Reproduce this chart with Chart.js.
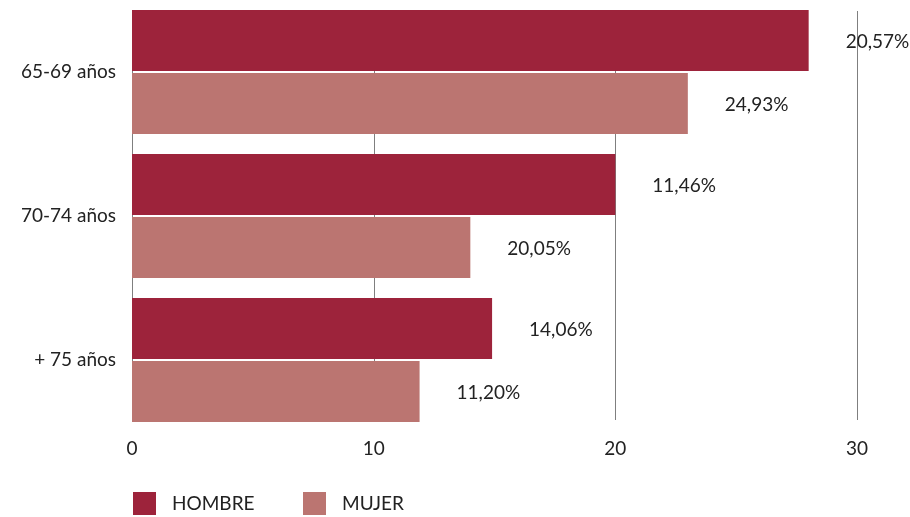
<!DOCTYPE html>
<html lang="es">
<head>
<meta charset="utf-8">
<title>Población por edad y sexo</title>
<script src="https://cdn.jsdelivr.net/npm/chart.js@4.4.1/dist/chart.umd.min.js"></script>
<style>
  html, body { margin: 0; padding: 0; background: #ffffff; }
  #wrap { position: relative; width: 910px; height: 517px; }
</style>
</head>
<body>
<div id="wrap"><canvas id="grafico" width="910" height="517"></canvas></div>
<script>
// Grupos de edad
const categorias = ['65-69 años', '70-74 años', '+ 75 años'];
// Longitud de las barras
const hombre = [28.0, 20.0, 14.9];
const mujer = [23.0, 14.0, 11.9];
// Rótulos que acompañan a cada barra
const rotulosHombre = ['20,57%', '11,46%', '14,06%'];
const rotulosMujer = ['24,93%', '20,05%', '11,20%'];
// Marcas del eje horizontal
const marcasX = [0, 10, 20, 30];

const FUENTE = 'Lato, "Noto Sans", sans-serif';
const TAM = 19;
const TEXTO = '#222222';
const COLOR_HOMBRE = '#9d233b';
const COLOR_MUJER = '#bb7571';

// Líneas verticales de la cuadrícula, detrás de las barras
const cuadricula = {
  id: 'cuadricula',
  beforeDatasetsDraw(chart) {
    const { ctx, scales: { x }, chartArea } = chart;
    ctx.save();
    ctx.strokeStyle = '#7f7f7f';
    ctx.lineWidth = 1;
    marcasX.forEach(v => {
      const px = Math.round(x.getPixelForValue(v)) + 0.5;
      ctx.beginPath();
      ctx.moveTo(px, chartArea.top + 11);
      ctx.lineTo(px, chartArea.bottom - 12);
      ctx.stroke();
    });
    ctx.restore();
  }
};

// Rótulos de texto a la derecha de cada barra
const rotulos = {
  id: 'rotulos',
  afterDatasetsDraw(chart) {
    const { ctx } = chart;
    const textos = [rotulosHombre, rotulosMujer];
    ctx.save();
    ctx.font = TAM + 'px ' + FUENTE;
    ctx.fillStyle = TEXTO;
    ctx.textAlign = 'left';
    ctx.textBaseline = 'middle';
    chart.data.datasets.forEach((ds, i) => {
      chart.getDatasetMeta(i).data.forEach((bar, j) => {
        ctx.fillText(textos[i][j], bar.x + 37, bar.y + 1);
      });
    });
    ctx.restore();
  }
};

// Leyenda inferior
const leyenda = {
  id: 'leyenda',
  afterDraw(chart) {
    const { ctx } = chart;
    const items = [
      { texto: 'HOMBRE', color: COLOR_HOMBRE, x: 133 },
      { texto: 'MUJER', color: COLOR_MUJER, x: 303 }
    ];
    ctx.save();
    ctx.font = TAM + 'px ' + FUENTE;
    ctx.textAlign = 'left';
    ctx.textBaseline = 'middle';
    items.forEach(it => {
      ctx.fillStyle = it.color;
      ctx.fillRect(it.x, 492, 23, 23);
      ctx.fillStyle = TEXTO;
      ctx.fillText(it.texto, it.x + 39, 504);
    });
    ctx.restore();
  }
};

new Chart(document.getElementById('grafico'), {
  type: 'bar',
  data: {
    labels: categorias,
    datasets: [
      { label: 'HOMBRE', data: hombre, backgroundColor: COLOR_HOMBRE,
        categoryPercentage: 0.875, barPercentage: 0.968 },
      { label: 'MUJER', data: mujer, backgroundColor: COLOR_MUJER,
        categoryPercentage: 0.875, barPercentage: 0.968 }
    ]
  },
  options: {
    indexAxis: 'y',
    responsive: false,
    animation: false,
    layout: { padding: { top: 0, right: 53, bottom: 45, left: 0 } },
    plugins: {
      legend: { display: false },
      tooltip: { enabled: false }
    },
    scales: {
      x: {
        min: 0,
        max: 30,
        afterBuildTicks(scale) { scale.ticks = marcasX.map(v => ({ value: v })); },
        afterFit(scale) { scale.height = 40; },
        grid: { display: false, drawTicks: false },
        border: { display: false },
        ticks: { padding: 5, color: TEXTO, font: { family: FUENTE, size: TAM } }
      },
      y: {
        afterFit(scale) {
          scale.width = 132;
          scale.paddingTop = 0;
          scale.paddingBottom = 0;
        },
        grid: { display: false, drawTicks: false },
        border: { display: false },
        ticks: { padding: 16, color: TEXTO, font: { family: FUENTE, size: TAM } }
      }
    }
  },
  plugins: [cuadricula, rotulos, leyenda]
});
</script>
</body>
</html>
